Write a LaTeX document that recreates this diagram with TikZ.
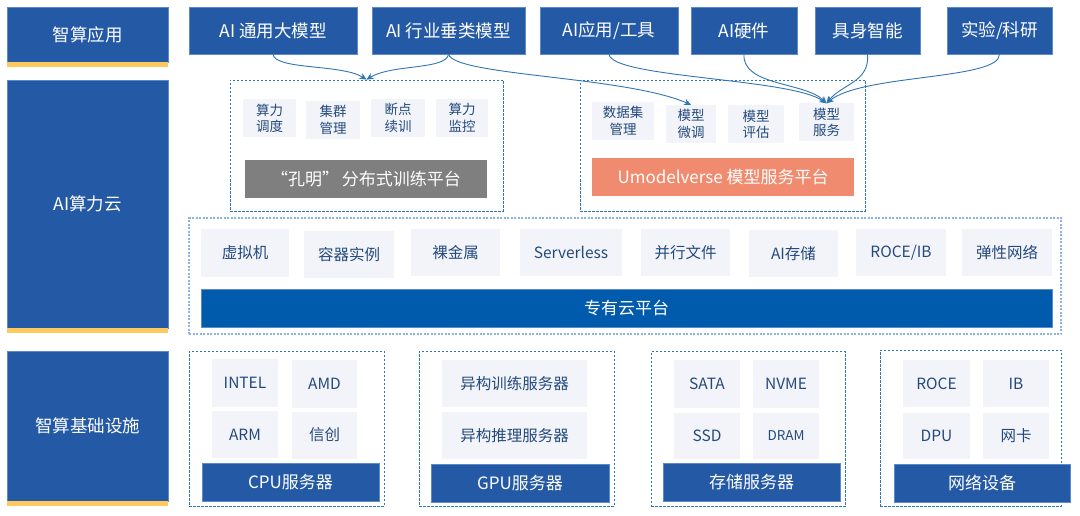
\documentclass[tikz,border=0pt]{standalone}
\usepackage{fontspec}
\setmainfont{Noto Sans CJK SC}
\usepackage{xcolor}
\usepackage{tikz}
\usetikzlibrary{arrows.meta}
\definecolor{sideblue}{HTML}{2459A5}
\definecolor{edgeblue}{HTML}{5B8BCB}
\definecolor{barblue}{HTML}{005BAC}
\definecolor{stripyellow}{HTML}{FFC95E}
\definecolor{itemgray}{HTML}{F2F4F9}
\definecolor{itemtext}{HTML}{244A7C}
\definecolor{dashblue}{HTML}{2E75B6}
\definecolor{dashlight}{HTML}{8DB3E2}
\definecolor{platgray}{HTML}{7F7F7F}
\definecolor{platorange}{HTML}{F08B6F}
\tikzstyle{side} = [rectangle, inner sep=0pt, fill=sideblue, draw=edgeblue, line width=0.5pt, text=white, font=\fontsize{17.5}{20}\selectfont]
\tikzstyle{strip} = [rectangle, inner sep=0pt, fill=stripyellow, minimum width=161pt, minimum height=5pt]
\tikzstyle{app} = [rectangle, inner sep=0pt, fill=sideblue, draw=edgeblue, line width=0.5pt, text=white, minimum height=47pt, font=\fontsize{17.5}{20}\selectfont]
\tikzstyle{item} = [rectangle, inner sep=0pt, fill=itemgray, text=itemtext, align=center, font=\fontsize{15.5}{18}\selectfont]
\tikzstyle{small} = [item, minimum height=38pt, font=\fontsize{13.5}{16.5}\selectfont]
\tikzstyle{plat} = [rectangle, inner sep=0pt, text=white, minimum height=38pt, font=\fontsize{17}{20}\selectfont]
\tikzstyle{group} = [rectangle, draw=dashblue, line width=0.8pt, dash pattern=on 2.5pt off 1.5pt]
\tikzstyle{arrow} = [draw=dashblue, line width=0.9pt, -{Stealth[length=7pt, width=6.5pt]}]

\begin{document}
\begin{tikzpicture}[x=1pt, y=-1pt]
\useasboundingbox (0,0) rectangle (1080,516);

% left column
\node [side, minimum width=161pt, minimum height=55pt] (lapp) at (87.5,34.5) {智算应用};
\node [strip] (lapps) at (87.5,64.5) {};
\node [side, minimum width=161pt, minimum height=248pt] (lcloud) at (87.5,204) {AI算力云};
\node [strip] (lclouds) at (87.5,330.5) {};
\node [side, minimum width=161pt, minimum height=150pt] (linfra) at (87.5,426) {智算基础设施};
\node [strip] (linfras) at (87.5,503.5) {};

% applications
\node [app, minimum width=168pt] (gen) at (273,30.5) {AI 通用大模型};
\node [app, minimum width=153pt] (ind) at (448.5,30.5) {AI 行业垂类模型};
\node [app, minimum width=138pt] (tool) at (609,30.5) {AI应用/工具};
\node [app, minimum width=106pt] (hw) at (744,30.5) {AI硬件};
\node [app, minimum width=105pt] (emb) at (867.5,30.5) {具身智能};
\node [app, minimum width=105pt] (lab) at (999.5,30.5) {实验/科研};

% training platform
\node [group, minimum width=273pt, minimum height=131pt] (km) at (366.5,145.5) {};
\node [small, minimum width=53pt] (sched) at (269.5,118.5) {算力\\调度};
\node [small, minimum width=54pt] (clus) at (333,120) {集群\\管理};
\node [small, minimum width=54pt] (resume) at (398,118) {断点\\续训};
\node [small, minimum width=52pt] (mon) at (462,118) {算力\\监控};
\node [plat, fill=platgray, minimum width=242pt] (kmbar) at (366,179) {“孔明”\,分布式训练平台};

% model service platform
\node [group, minimum width=285pt, minimum height=131pt] (um) at (722.5,145.5) {};
\node [small, minimum width=62pt] (data) at (623,121) {数据集\\管理};
\node [small, minimum width=50pt] (ftune) at (691,124) {模型\\微调};
\node [small, minimum width=56pt] (eval) at (756,124.5) {模型\\评估};
\node [small, minimum width=55pt] (serve) at (826.5,122.5) {模型\\服务};
\node [plat, fill=platorange, minimum width=262pt] (umbar) at (723,177) {Umodelverse 模型服务平台};

% cloud
\node [rectangle, draw=dashlight, line width=1.6pt, dash pattern=on 2pt off 1.5pt, minimum width=872pt, minimum height=116pt] (cloud) at (625,276) {};
\node [item, minimum width=88pt, minimum height=47pt] (vm) at (245,253) {虚拟机};
\node [item, minimum width=90pt, minimum height=47pt] (ctr) at (349,254.5) {容器实例};
\node [item, minimum width=89pt, minimum height=47pt] (bare) at (455.5,252.5) {裸金属};
\node [item, minimum width=102pt, minimum height=47pt] (sless) at (571,252.5) {Serverless};
\node [item, minimum width=89pt, minimum height=47pt] (pfs) at (685.5,252.5) {并行文件};
\node [item, minimum width=89pt, minimum height=47pt] (aist) at (793.5,253.5) {AI存储};
\node [item, minimum width=90pt, minimum height=47pt] (roib) at (901,252.5) {ROCE/IB};
\node [item, minimum width=90pt, minimum height=47pt] (enet) at (1007,252.5) {弹性网络};
\node [plat, fill=barblue, draw=edgeblue, line width=0.5pt, minimum width=851pt] (cbar) at (626.5,308) {专有云平台};

% infrastructure
\node [group, minimum width=195pt, minimum height=155pt] (cpu) at (286.5,428.5) {};
\node [item, minimum width=66pt, minimum height=48pt] (intel) at (245,383) {INTEL};
\node [item, minimum width=65pt, minimum height=48pt] (amd) at (324.5,383.5) {AMD};
\node [item, minimum width=66pt, minimum height=47pt] (arm) at (245,434.5) {ARM};
\node [item, minimum width=65pt, minimum height=47pt] (xc) at (324.5,435) {信创};
\node [plat, fill=sideblue, draw=edgeblue, line width=0.5pt, minimum width=177pt] (cpubar) at (290.5,482) {CPU服务器};

\node [group, minimum width=195pt, minimum height=155pt] (gpu) at (516.5,428.5) {};
\node [item, minimum width=145pt, minimum height=47pt] (htrain) at (514.5,383.5) {异构训练服务器};
\node [item, minimum width=145pt, minimum height=47pt] (hinfer) at (514.5,435.5) {异构推理服务器};
\node [plat, fill=sideblue, draw=edgeblue, line width=0.5pt, minimum width=178pt] (gpubar) at (520,483) {GPU服务器};

\node [group, minimum width=194pt, minimum height=155pt] (stor) at (748,429) {};
\node [item, minimum width=66pt, minimum height=48pt] (sata) at (707,384) {SATA};
\node [item, minimum width=66pt, minimum height=48pt] (nvme) at (786,384) {NVME};
\node [item, minimum width=66pt, minimum height=46pt] (ssd) at (707,436) {SSD};
\node [item, minimum width=66pt, minimum height=46pt, font=\fontsize{13.5}{16}\selectfont] (dram) at (786,436) {DRAM};
\node [plat, fill=sideblue, draw=edgeblue, line width=0.5pt, minimum width=177pt] (storbar) at (751.5,482.5) {存储服务器};

\node [group, minimum width=181pt, minimum height=156pt] (net) at (970.5,428) {};
\node [item, minimum width=67pt, minimum height=47pt] (roce) at (936.5,383.5) {ROCE};
\node [item, minimum width=66pt, minimum height=47pt] (ib) at (1016,383.5) {IB};
\node [item, minimum width=67pt, minimum height=46pt] (dpu) at (936.5,436) {DPU};
\node [item, minimum width=66pt, minimum height=46pt] (nic) at (1016,436) {网卡};
\node [plat, fill=sideblue, draw=edgeblue, line width=0.5pt, minimum width=176pt] (netbar) at (982,483) {网络设备};

% connectors
\draw [arrow] (gen.south) .. controls (275,70) and (342,64) .. (km.north);
\draw [arrow] (ind.south) .. controls (446,70) and (392,64) .. (km.north);
\draw [arrow] (ind.south) .. controls (455,76) and (625,76) .. (ftune.north);
\draw [arrow] (tool.south) .. controls (612,78) and (790,78) .. (serve.north);
\draw [arrow] (hw.south) .. controls (742,86) and (805,82) .. (serve.north);
\draw [arrow] (emb.south) .. controls (870,82) and (842,84) .. (serve.north);
\draw [arrow] (lab.south) .. controls (1000,80) and (862,74) .. (serve.north);
\end{tikzpicture}
\end{document}
